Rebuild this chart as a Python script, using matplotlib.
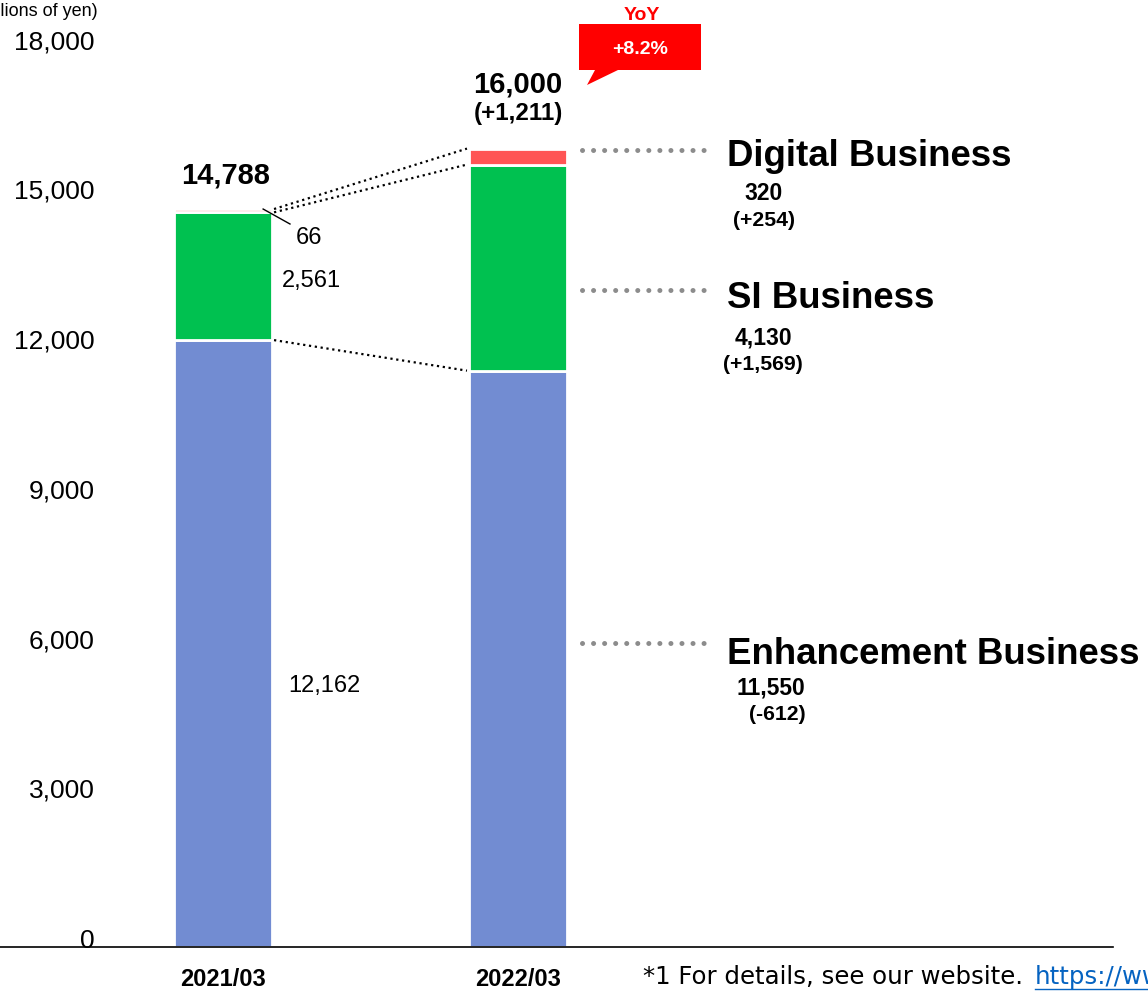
import matplotlib
matplotlib.use("Agg")
import matplotlib.pyplot as plt
from matplotlib.patches import Polygon
from matplotlib.transforms import ScaledTranslation

plt.rcParams['font.family'] = ['Liberation Sans', 'DejaVu Sans']

# sales by segment, millions of yen
periods = ['2021/03', '2022/03']
enhancement = [12162, 11550]
si = [2561, 4130]
digital = [66, 320]
totals = [14788, 16000]
total_diff = '(+1,211)'
yoy_pct = '+8.2%'

segment_names = ['Digital Business', 'SI Business', 'Enhancement Business']
segment_values = ['320', '4,130', '11,550']
segment_diffs = ['(+254)', '(+1,569)', '(-612)']

c_blue = '#728cd2'
c_green = '#00c150'
c_red = '#ff5555'

W, H = 1148, 992
fig = plt.figure(figsize=(W / 100, H / 100), dpi=100)


def fx(px):
    return px / W


def fy(py):
    return 1 - py / H


ax = fig.add_axes([0, fy(947), fx(1113), 947 / H])
ax.set_xlim(-0.756, 3.017)
ax.set_ylim(0, 947 / 0.0499)

x = [0, 1]
bw = 0.332
b1 = enhancement
b2 = [a + b for a, b in zip(enhancement, si)]
b3 = [a + b for a, b in zip(b2, digital)]
ax.bar(x, enhancement, width=bw, color=c_blue, edgecolor='white', linewidth=2)
ax.bar(x, si, bottom=b1, width=bw, color=c_green, edgecolor='white', linewidth=2)
ax.bar(x, digital, bottom=b2, width=bw, color=c_red, edgecolor='white', linewidth=2)

# dotted connectors between the two bars
xl, xr = 0.173, 0.827
for yl, yr in [(b3[0], b3[1]), (b2[0], b2[1]), (b1[0], b1[1])]:
    ax.plot([xl, xr], [yl, yr], color='black', linestyle=':', linewidth=1.6)

# small leader for the 66
ax.plot([0.136, 0.227], [b3[0], b3[0] - 300], color='black', linewidth=1)
ax.text(0.29, b3[0] - 580, f'{digital[0]:,}', fontsize=17, ha='center', va='center')
ax.text(0.30, b1[0] + si[0] / 2 - 100, f'{si[0]:,}', fontsize=17, ha='center', va='center')
ax.text(0.345, 5230, f'{enhancement[0]:,}', fontsize=17, ha='center', va='center')

# totals above bars
ax.annotate(f'{totals[0]:,}', (0.01, b3[0]), xytext=(0, 24.5), textcoords='offset points',
            ha='center', va='center', fontsize=21, fontweight='bold')
ax.annotate(f'{totals[1]:,}', (1, b3[1]), xytext=(0, 46), textcoords='offset points',
            ha='center', va='center', fontsize=21, fontweight='bold')
ax.annotate(total_diff, (1, b3[1]), xytext=(0, 25), textcoords='offset points',
            ha='center', va='center', fontsize=17.4, fontweight='bold')

# grey leaders to segment names
for yv in [15972, 13166, 6092]:
    ax.plot([1.217, 1.637], [yv, yv], color='#8c8c8c', linewidth=3.6,
            linestyle=(0, (0.01, 2.2)), dash_capstyle='round')

name_y = [157, 299, 654]
val_pos = [(764, 194), (763, 338), (771, 688)]
diff_pos = [(764, 221), (763, 364), (777, 715)]
for name, ny, val, vp, dif, dp in zip(segment_names, name_y, segment_values,
                                      val_pos, segment_diffs, diff_pos):
    fig.text(fx(727), fy(ny), name, fontsize=26.4, fontweight='bold', ha='left', va='center')
    fig.text(fx(vp[0]), fy(vp[1]), val, fontsize=16.5, fontweight='bold', ha='center', va='center')
    fig.text(fx(dp[0]), fy(dp[1]), dif, fontsize=15.3, fontweight='bold', ha='center', va='center')

# axes styling
for side in ['left', 'right', 'top']:
    ax.spines[side].set_visible(False)
ax.spines['bottom'].set_linewidth(1.2)
ax.set_yticks(range(0, 18001, 3000))
ax.set_yticklabels([f'{v:,}' for v in range(0, 18001, 3000)], fontsize=19)
ax.tick_params(axis='y', length=0, pad=-68.4)
shift = ScaledTranslation(0, 9 / 100, fig.dpi_scale_trans)
for lab in ax.get_yticklabels():
    lab.set_transform(lab.get_transform() + shift)
ax.set_xticks(x)
ax.set_xticklabels(periods, fontsize=17, fontweight='bold')
ax.tick_params(axis='x', length=0, pad=15)

fig.text(fx(98), fy(12), '(Millions of yen)', fontsize=13, ha='right', va='center')

# YoY callout
fig.text(fx(642), fy(15), 'YoY', color='#ff0000', fontsize=14, fontweight='bold',
         ha='center', va='center')
pts = [(579, 24), (701, 24), (701, 70), (618, 70), (587, 85), (595, 70), (579, 70)]
fig.patches.append(Polygon([(fx(a), fy(b)) for a, b in pts], closed=True,
                           transform=fig.transFigure, facecolor='#ff0000', edgecolor='none'))
fig.text(fx(640), fy(49), yoy_pct, color='white', fontsize=14, fontweight='bold',
         ha='center', va='center')

# footnote
fig.text(fx(643), fy(977), '*1 For details, see our website.', fontsize=17.6,
         family='DejaVu Sans', ha='left', va='center')
fig.text(fx(1035), fy(977), 'https://www.', fontsize=17.6, color='#0563c1',
         family='DejaVu Sans', ha='left', va='center')
fig.add_artist(plt.Line2D([fx(1035), fx(1148)], [fy(989), fy(989)],
                          transform=fig.transFigure, color='#0563c1', linewidth=1))

fig.savefig('out.png', dpi=100)
